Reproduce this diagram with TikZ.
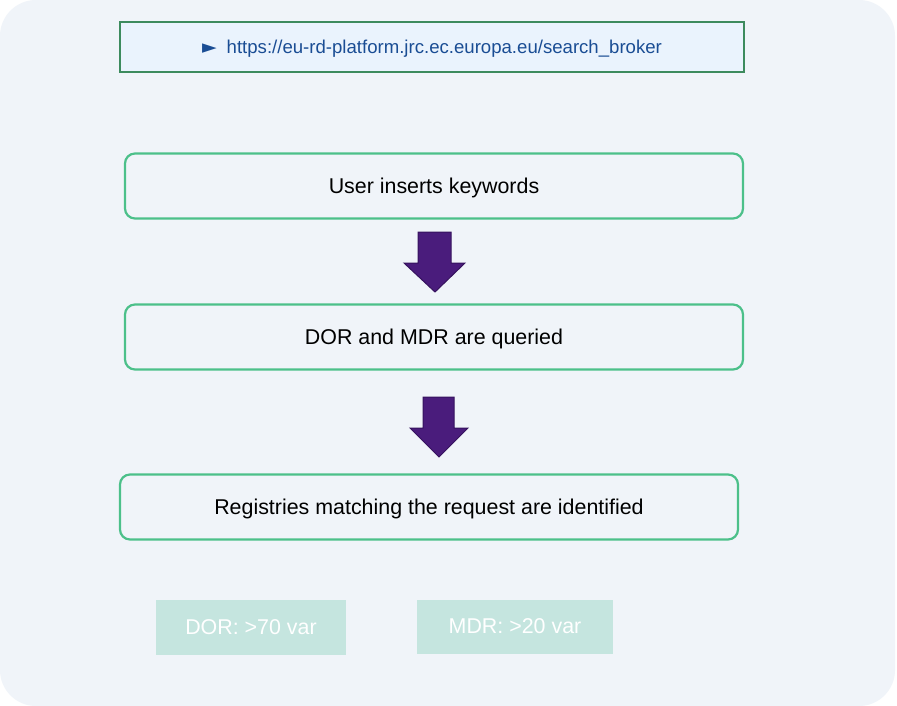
\documentclass[tikz,border=0pt]{standalone}
\usepackage{fontspec}
\setmainfont{Liberation Sans}
\newfontfamily\symfont{DejaVu Sans}
\definecolor{bgpanel}{HTML}{F0F4F9}
\definecolor{urlfill}{HTML}{EAF3FD}
\definecolor{urlborder}{HTML}{3D8B5E}
\definecolor{urltext}{HTML}{1A4D94}
\definecolor{stepgreen}{HTML}{4CC08A}
\definecolor{arrowfill}{HTML}{4A1C7C}
\definecolor{arrowline}{HTML}{36125E}
\definecolor{varfill}{HTML}{C5E5DF}
\tikzset{
  stepbox/.style={draw=stepgreen, line width=2.2pt, rounded corners=10pt, fill=bgpanel,
    minimum height=65pt, inner sep=0pt, font=\fontsize{21.4}{25}\selectfont, text=black},
  steptext/.style={inner sep=0pt, font=\fontsize{21.4}{25}\selectfont, text=black},
  varbox/.style={fill=varfill, inner sep=0pt, text=white, font=\fontsize{21.4}{25}\selectfont},
  downarrow/.style={fill=arrowfill, draw=arrowline, line width=1pt, line join=miter},
}
\begin{document}
\begin{tikzpicture}[x=1pt,y=-1pt]
\useasboundingbox (0,0) rectangle (897,706);
\fill[white] (0,0) rectangle (897,706);
\fill[bgpanel, rounded corners=36pt] (0,0) rectangle (895,706);
% URL box
\node[draw=urlborder, line width=1.8pt, fill=urlfill, minimum width=624pt, minimum height=50pt,
  inner sep=0pt] (url) at (432,47) {};
\node[inner sep=0pt, text=urltext, font=\fontsize{18.6}{22}\selectfont] (urltxt) at (432,48.5)
  {{\symfont\fontsize{19}{22}\selectfont ►}\hspace{10pt}https://eu-rd-platform.jrc.ec.europa.eu/search\_broker};
% steps
\node[stepbox, minimum width=618pt] (s1) at (434,186) {};
\node[steptext] (t1) at (434,187.5) {User inserts keywords};
\node[stepbox, minimum width=618pt] (s2) at (434,337) {};
\node[steptext] (t2) at (434,338.5) {DOR and MDR are queried};
\node[stepbox, minimum width=618pt] (s3) at (429,507) {};
\node[steptext] (t3) at (429,508.5) {Registries matching the request are identified};
% arrows
\coordinate (a1) at (435,232);
\draw[downarrow] (418,232) -- (451,232) -- (451,263) -- (465,263) -- (435,292) -- (404,263) -- (418,263) -- cycle;
\coordinate (a2) at (439,397);
\draw[downarrow] (423,397) -- (454,397) -- (454,428) -- (468,428) -- (439,457) -- (410,428) -- (423,428) -- cycle;
% variable boxes
\node[varbox, minimum width=190pt, minimum height=55pt] (dor) at (251,627) {DOR: >70 var};
\node[varbox, minimum width=196pt, minimum height=54pt] (mdr) at (515,626.5) {MDR: >20 var};
\end{tikzpicture}
\end{document}
